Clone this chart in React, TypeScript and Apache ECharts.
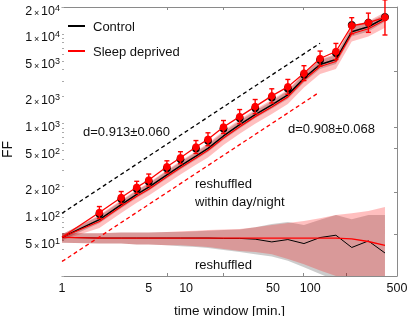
import React, { useEffect, useRef } from "react";
import * as echarts from "echarts";

const FONT = '"Liberation Sans", Arial, Helvetica, sans-serif';
const TXT = "#111";
const AX = "#8a8a8a";

// time windows [min.]
const timeWindows = [1, 2, 3, 4, 5, 7, 9, 12, 15, 20, 27, 36, 49, 66, 89, 120, 161, 216, 294, 400];
// Sleep deprived FF (red dots) and multiplicative error
const sdFF = [54, 102, 150, 195, 235, 330, 417, 549, 670, 919, 1197, 1549, 2040, 2572, 3660, 5330, 6380, 12360, 13350, 15300];
const sdErr = [1, 1.167, 1.167, 1.167, 1.167, 1.167, 1.167, 1.18, 1.18, 1.18, 1.2, 1.2, 1.2, 1.21, 1.21, 1.21, 1.23, 1.23, 1.28, 1.57];
// Control FF (black dots)
const ctrlFF = [54, 98, 144, 187, 226, 317, 400, 527, 643, 882, 1150, 1487, 1958, 2470, 3514, 5117, 6125, 12600, 13400, 15500];
// reshuffled within day/night
const withinCtrl = [54, 85, 125, 163, 196, 269, 339, 435, 531, 729, 974, 1261, 1618, 2094, 3217, 4568, 5193, 10593, 12042, 15100];
const withinCtrlSpread = [1.08, 1.1, 1.1, 1.1, 1.1, 1.1, 1.1, 1.1, 1.1, 1.1, 1.1, 1.1, 1.1, 1.11, 1.12, 1.12, 1.12, 1.13, 1.13, 1.1];
const withinSD = [54, 81, 119, 155, 186, 256, 322, 413, 504, 693, 925, 1198, 1537, 1989, 3056, 4340, 4933, 10063, 11440, 14345];
const withinSDSpread = [1.08, 1.18, 1.18, 1.18, 1.18, 1.19, 1.19, 1.19, 1.2, 1.2, 1.2, 1.2, 1.2, 1.2, 1.21, 1.21, 1.21, 1.22, 1.22, 1.22];
// fully reshuffled
const shufCtrl = [54, 53, 53, 53, 53, 53, 53, 53, 53, 52.5, 52.5, 51.5, 48, 51, 46, 53.7, 57, 41.6, 49.2, 36.1];
const shufCtrlHi = [60, 60, 61, 61, 61, 62, 62, 63, 64, 65, 66, 70, 76, 80, 74, 85, 96, 86, 96, 96];
const shufCtrlLo = [47, 46, 46, 45, 45, 44, 43, 42, 41, 39, 37, 35, 33, 29.5, 25, 21, 18, 14, 10, 8];
const shufSD = [54, 53, 53, 53, 53, 53, 53, 53, 53, 53, 53, 53, 53, 53, 53, 53, 53, 52, 48.5, 44];
const shufSDHi = [60, 60, 61, 61, 61, 62, 63, 64, 65, 66, 67, 70, 74, 78, 82, 88, 96, 100, 106, 118];
const shufSDLo = [47, 46, 46, 45, 45, 44, 44, 43, 42, 40, 38, 37, 35, 31, 27, 23, 20, 15, 11, 9];
// power-law reference lines
const refCtrlX = [1, 120];
const refCtrlY = [100, 7900];
const refSDX = [1, 116];
const refSDY = [29, 2200];

// axis ticks / labels
const xLabelValues = [1, 5, 10, 50, 100, 500];
const xTickValues = [7, 20, 88, 195];
const xTopTickValues = [7, 20, 88];
const yLabelValues = [50, 100, 200, 500, 1000, 2000, 5000, 10000, 20000];
const yMinorTickValues = [20, 30, 40, 50, 60, 70, 80, 90, 100, 200, 300, 400, 500, 600, 700, 800, 900, 1000, 2000, 3000, 4000, 5000, 6000, 7000, 8000, 9000, 10000, 20000];
const yRightTickValues = [59, 173, 536, 918, 3870];

const X_MIN = 1, X_MAX = 500, Y_MIN = 20, Y_MAX = 20000;
const lg = (v: number) => Math.log10(v);

function band(lo: number[], hi: number[], fill: string, z: number) {
  return {
    type: "custom",
    z,
    silent: true,
    data: timeWindows.map((x, i) => [x, lo[i], hi[i]]),
    encode: { x: 0, y: [1, 2] },
    renderItem: (params: any, api: any) => {
      if (params.dataIndex !== 0) return null;
      const pts: number[][] = [];
      for (let i = 0; i < timeWindows.length; i++) pts.push(api.coord([timeWindows[i], hi[i]]));
      for (let i = timeWindows.length - 1; i >= 0; i--) pts.push(api.coord([timeWindows[i], lo[i]]));
      const cs = params.coordSys;
      return {
        type: "polygon",
        shape: { points: pts },
        style: { fill, stroke: null },
        clipPath: { type: "rect", shape: { x: cs.x, y: cs.y, width: cs.width, height: cs.height } },
      };
    },
  };
}

function line(vals: number[], color: string, width: number, z: number, xs = timeWindows, dashed = false) {
  return {
    type: "line",
    z,
    silent: true,
    data: xs.map((x, i) => [x, vals[i]]),
    symbol: "none",
    lineStyle: { color, width, type: dashed ? [4, 3] : "solid" },
    itemStyle: { color },
  };
}

// first point (window = 1) carries no marker
const pointsOf = (vals: number[]) =>
  timeWindows.map((x, i) => (i === 0 ? { value: [x, vals[i]], symbol: "none" } : [x, vals[i]]));

export default function App() {
  const ref = useRef<HTMLDivElement>(null);
  useEffect(() => {
    if (!ref.current) return;
    const chart = echarts.init(ref.current, undefined, { renderer: "svg" });
    const yFmt = (v: number) => {
      const e = Math.floor(v + 1e-6);
      const m = Math.round(Math.pow(10, v - e));
      return `{b|${m}}{x|\u2009\u00d7\u2009}{b|10}{s|${e}}`;
    };
    const option: any = {
      animation: false,
      grid: { left: 62, right: 10, top: 7, bottom: 40, containLabel: false, outerBoundsMode: "none" },
      xAxis: [
        { type: "log", logBase: 10, min: X_MIN, max: X_MAX, show: false },
        {
          type: "value", position: "bottom", min: 0, max: lg(X_MAX),
          axisLine: { show: true, onZero: false, lineStyle: { color: AX, width: 1 } },
          axisTick: { show: true, inside: true, length: 3, customValues: xTickValues.map(lg), lineStyle: { color: AX } },
          axisLabel: {
            show: true, customValues: xLabelValues.map(lg), margin: 5,
            formatter: (v: number) => String(Math.round(Math.pow(10, v))),
            fontSize: 12.5, fontFamily: FONT, color: TXT,
          },
          splitLine: { show: false },
          name: "time window [min.]", nameLocation: "middle", nameGap: 27,
          nameTextStyle: { fontSize: 13.5, fontFamily: FONT, color: TXT },
        },
        {
          type: "value", position: "top", min: 0, max: lg(X_MAX),
          axisLine: { show: true, onZero: false, lineStyle: { color: AX, width: 1 } },
          axisTick: { show: true, inside: true, length: 3, customValues: xTopTickValues.map(lg), lineStyle: { color: AX } },
          axisLabel: { show: false },
          splitLine: { show: false },
        },
      ],
      yAxis: [
        { type: "log", logBase: 10, min: Y_MIN, max: Y_MAX, show: false },
        {
          type: "value", position: "left", min: lg(Y_MIN), max: lg(Y_MAX),
          axisLine: { show: false, onZero: false },
          axisTick: { show: true, inside: true, length: 2, customValues: yMinorTickValues.map(lg), lineStyle: { color: "#aaa" } },
          axisLabel: {
            show: true, customValues: yLabelValues.map(lg), margin: 2, formatter: yFmt,
            padding: [6, 0, 0, 0],
            rich: {
              b: { fontSize: 12.5, fontFamily: FONT, color: TXT, lineHeight: 14, verticalAlign: "bottom" },
              x: { fontSize: 9, fontFamily: FONT, color: TXT, lineHeight: 14, verticalAlign: "bottom" },
              s: { fontSize: 9, fontFamily: FONT, color: TXT, lineHeight: 10, verticalAlign: "top", padding: [0, 0, 6, 0] },
            },
          },
          splitLine: { show: false },
          name: "FF", nameLocation: "middle", nameGap: 45, nameRotate: 90,
          nameTextStyle: { fontSize: 14, fontFamily: FONT, color: TXT, padding: [0, 16, 0, 0] },
        },
        {
          type: "value", position: "right", min: lg(Y_MIN), max: lg(Y_MAX),
          axisLine: { show: true, onZero: false, lineStyle: { color: AX, width: 1 } },
          axisTick: { show: true, inside: true, length: 3, customValues: yRightTickValues.map(lg), lineStyle: { color: AX } },
          axisLabel: { show: false },
          splitLine: { show: false },
        },
      ],
      legend: {
        data: [{ name: "Control", icon: "rect" }, { name: "Sleep deprived", icon: "rect" }],
        orient: "vertical", left: 68, top: 19, padding: 0,
        itemWidth: 17, itemHeight: 2, itemGap: 11, selectedMode: false,
        textStyle: { fontSize: 13, fontFamily: FONT, color: TXT, lineHeight: 14, padding: [0, 0, 0, 3] },
      },
      series: [
        band(shufCtrlLo, shufCtrlHi, "rgba(0,0,0,0.2)", 1),
        band(shufSDLo, shufSDHi, "rgba(255,0,0,0.25)", 1),
        band(withinCtrl.map((v, i) => v / withinCtrlSpread[i]), withinCtrl.map((v, i) => v * withinCtrlSpread[i]), "rgba(0,0,0,0.22)", 1),
        band(withinSD.map((v, i) => v / withinSDSpread[i]), withinSD.map((v, i) => v * withinSDSpread[i]), "rgba(255,0,0,0.25)", 1),
        line(shufCtrl, "#000", 1, 2),
        line(shufSD, "#ff0000", 1.3, 2),
        line(withinCtrl, "#000", 1.5, 2),
        line(withinSD, "#ff0000", 1.2, 2),
        line(refCtrlY, "#000", 1.3, 3, refCtrlX, true),
        line(refSDY, "#ff0000", 1.3, 3, refSDX, true),
        {
          type: "line", name: "Control", z: 4, silent: true,
          data: pointsOf(ctrlFF),
          symbol: "circle", symbolSize: 8,
          lineStyle: { color: "#000", width: 1, opacity: 0 }, itemStyle: { color: "#000" },
        },
        {
          type: "line", name: "Sleep deprived", z: 5, silent: true,
          data: pointsOf(sdFF),
          symbol: "circle", symbolSize: 7.5,
          lineStyle: { color: "#ff0000", width: 1.3 }, itemStyle: { color: "#ff0000" },
        },
        {
          type: "custom", z: 6, silent: true,
          data: timeWindows.map((x, i) => [x, sdFF[i] / sdErr[i], sdFF[i] * sdErr[i]]),
          encode: { x: 0, y: [1, 2] },
          renderItem: (params: any, api: any) => {
            const x = api.value(0), lo = api.value(1), hi = api.value(2);
            if (hi <= lo) return null;
            const a = api.coord([x, lo]);
            const b = api.coord([x, hi]);
            const w = 2.5;
            const st = { stroke: "#ff0000", lineWidth: 1.4 };
            return {
              type: "group",
              children: [
                { type: "line", shape: { x1: a[0], y1: a[1], x2: b[0], y2: b[1] }, style: st },
                { type: "line", shape: { x1: a[0] - w, y1: a[1], x2: a[0] + w, y2: a[1] }, style: st },
                { type: "line", shape: { x1: b[0] - w, y1: b[1], x2: b[0] + w, y2: b[1] }, style: st },
              ],
            };
          },
        },
      ],
      graphic: [
        { type: "text", x: 83, y: 131, z: 10, style: { text: "d=0.913\u00b10.060", font: `13px ${FONT}`, fill: TXT, verticalAlign: "middle" } },
        { type: "text", x: 288, y: 128, z: 10, style: { text: "d=0.908\u00b10.068", font: `13px ${FONT}`, fill: TXT, verticalAlign: "middle" } },
        { type: "text", x: 195, y: 183, z: 10, style: { text: "reshuffled", font: `13px ${FONT}`, fill: TXT, verticalAlign: "middle" } },
        { type: "text", x: 195, y: 201.5, z: 10, style: { text: "within day/night", font: `13px ${FONT}`, fill: TXT, verticalAlign: "middle" } },
        { type: "text", x: 195, y: 264, z: 10, style: { text: "reshuffled", font: `13px ${FONT}`, fill: TXT, verticalAlign: "middle" } },
      ],
    };
    chart.setOption(option);
    return () => chart.dispose();
  }, []);
  return <div ref={ref} style={{ position: "fixed", left: 0, top: 0, width: 407, height: 316 }} />;
}
